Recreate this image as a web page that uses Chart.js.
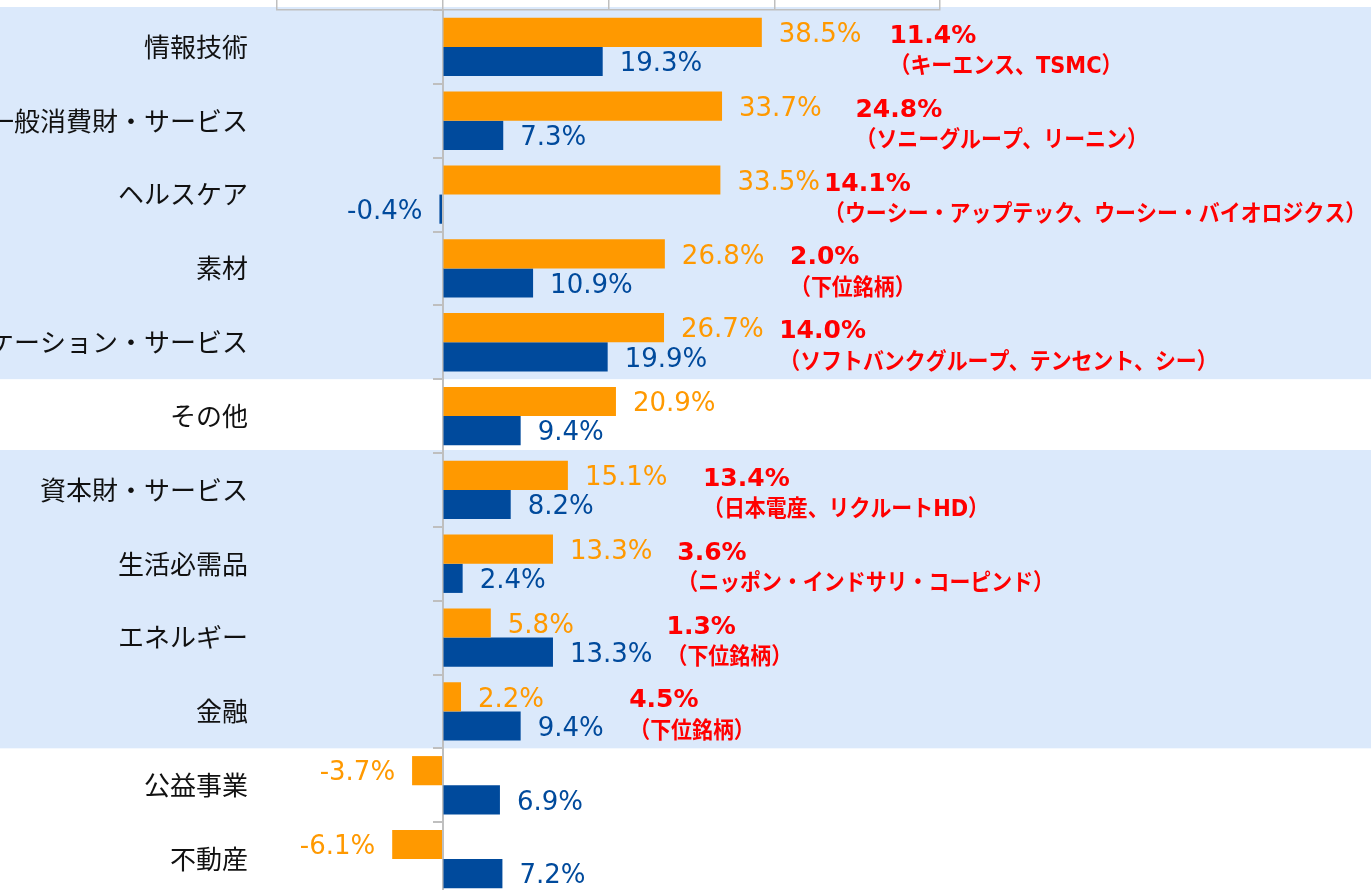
<!DOCTYPE html>
<html lang="ja">
<head>
<meta charset="utf-8">
<title>セクター別騰落率</title>
<script src="https://cdn.jsdelivr.net/npm/chart.js@4.4.1/dist/chart.umd.min.js"></script>
<style>
  html, body { margin: 0; padding: 0; background: #fff; overflow: hidden; }
  #frame { width: 1371px; height: 890px; overflow: hidden; }
  #wrap { position: relative; width: 1371px; height: 896px; }
</style>
</head>
<body>
<div id="frame"><div id="wrap"><canvas id="sectorChart"></canvas></div></div>
<script>
// Sectors, top to bottom
const sectors = [
    '情報技術', '一般消費財・サービス', 'ヘルスケア', '素材', 'コミュニケーション・サービス', 'その他',
    '資本財・サービス', '生活必需品', 'エネルギー', '金融', '公益事業', '不動産'
];

// Orange and blue series (%)
const orangeValues = [38.5, 33.7, 33.5, 26.8, 26.7, 20.9, 15.1, 13.3, 5.8, 2.2, -3.7, -6.1];
const blueValues = [19.3, 7.3, -0.4, 10.9, 19.9, 9.4, 8.2, 2.4, 13.3, 9.4, 6.9, 7.2];

// Red notes next to each sector
const noteRates = ['11.4%', '24.8%', '14.1%', '2.0%', '14.0%', '', '13.4%', '3.6%', '1.3%', '4.5%', '', ''];
const noteStocks = [
    '（キーエンス、TSMC）',
    '（ソニーグループ、リーニン）',
    '（ウーシー・アップテック、ウーシー・バイオロジクス）',
    '（下位銘柄）',
    '（ソフトバンクグループ、テンセント、シー）',
    '',
    '（日本電産、リクルートHD）',
    '（ニッポン・インドサリ・コーピンド）',
    '（下位銘柄）',
    '（下位銘柄）',
    '',
    ''
];
// where each note starts, in axis units
const noteAt = [53.9, 49.8, 46.0, 41.9, 40.6, null, 31.4, 28.3, 27.0, 22.5, null, null];

// rows sitting on the light blue bands (first, last)
const shadedRows = [[0, 4], [6, 9]];

// value axis
const axisMin = -20;
const axisMax = 60;
const axisStep = 20;

const ORANGE = '#ff9900';
const BLUE = '#004a9c';
const AXIS_GRAY = '#bfbfbf';

// Light blue bands behind groups of rows
const bandPlugin = {
    id: 'rowBands',
    beforeDraw(chart) {
        const { ctx, width } = chart;
        const y = chart.scales.y;
        const half = (y.getPixelForValue(1) - y.getPixelForValue(0)) / 2;
        ctx.save();
        ctx.fillStyle = '#dbe9fb';
        shadedRows.forEach(([from, to]) => {
            const top = y.getPixelForValue(from) - half - 3;
            const bottom = y.getPixelForValue(to) + half;
            ctx.fillRect(0, top, width, bottom - top);
        });
        ctx.restore();
    }
};

// Value labels at the bar ends plus the red notes
const labelPlugin = {
    id: 'barLabels',
    afterDatasetsDraw(chart) {
        const { ctx } = chart;
        const colors = [ORANGE, BLUE];
        ctx.save();
        ctx.textBaseline = 'middle';
        ctx.font = '26px "DejaVu Sans"';

        chart.data.datasets.forEach((ds, di) => {
            const meta = chart.getDatasetMeta(di);
            ctx.fillStyle = colors[di];
            meta.data.forEach((bar, i) => {
                const v = ds.data[i];
                const neg = v < 0;
                ctx.textAlign = neg ? 'right' : 'left';
                ctx.fillText(v.toFixed(1) + '%', bar.x + (neg ? -17 : 17), bar.y + 3);
            });
        });

        const top = chart.getDatasetMeta(0).data;
        const bottom = chart.getDatasetMeta(1).data;
        ctx.fillStyle = '#ff0000';
        ctx.textAlign = 'left';
        noteRates.forEach((rate, i) => {
            if (!rate) return;
            const x = chart.scales.x.getPixelForValue(noteAt[i]);
            ctx.font = 'bold 25px "DejaVu Sans"';
            ctx.fillText(rate, x, top[i].y + 4);
            // the stock names are set in a narrow face in the original
            ctx.save();
            ctx.translate(x, bottom[i].y + 6);
            ctx.scale(0.91, 1);
            ctx.font = 'bold 23px "DejaVu Sans", "Noto Sans CJK JP"';
            ctx.fillText(noteStocks[i], 0, 0);
            ctx.restore();
        });
        ctx.restore();
    }
};

const chart = new Chart(document.getElementById('sectorChart'), {
    type: 'bar',
    data: {
        labels: sectors,
        datasets: [
            {
                label: 'セクター騰落率',
                data: orangeValues,
                backgroundColor: ORANGE,
                categoryPercentage: 0.79,
                barPercentage: 1
            },
            {
                label: '参考',
                data: blueValues,
                backgroundColor: BLUE,
                categoryPercentage: 0.79,
                barPercentage: 1
            }
        ]
    },
    options: {
        indexAxis: 'y',
        responsive: true,
        maintainAspectRatio: false,
        animation: false,
        layout: { padding: { left: 0, right: 431, top: 0, bottom: 0 } },
        plugins: {
            legend: { display: false },
            tooltip: { enabled: false }
        },
        scales: {
            x: {
                type: 'linear',
                position: 'top',
                min: axisMin,
                max: axisMax,
                ticks: { stepSize: axisStep, display: false },
                grid: { drawOnChartArea: false, drawTicks: true, tickLength: 10, color: AXIS_GRAY, lineWidth: 1.5 },
                border: { display: true, color: AXIS_GRAY, width: 1.5 },
                afterFit(scale) {
                    scale.height = 10;
                    scale.paddingLeft = 0;
                    scale.paddingRight = 0;
                }
            },
            y: {
                position: 'left',
                offset: true,
                grid: { display: false, drawTicks: false },
                border: { display: false },
                ticks: {
                    autoSkip: false,
                    padding: 29,
                    color: '#111',
                    font: { family: '"Noto Sans CJK JP"', size: 26 }
                },
                afterFit(scale) {
                    scale.width = 277;
                    scale.paddingTop = 0;
                    scale.paddingBottom = 0;
                }
            },
            yZero: {
                axis: 'y',
                type: 'category',
                position: { x: 0 },
                offset: true,
                grid: { offset: true, drawOnChartArea: false, tickLength: 9, color: AXIS_GRAY, lineWidth: 2 },
                border: { display: true, color: AXIS_GRAY, width: 2 },
                ticks: { display: false }
            }
        }
    },
    plugins: [bandPlugin, labelPlugin]
});
</script>
</body>
</html>
